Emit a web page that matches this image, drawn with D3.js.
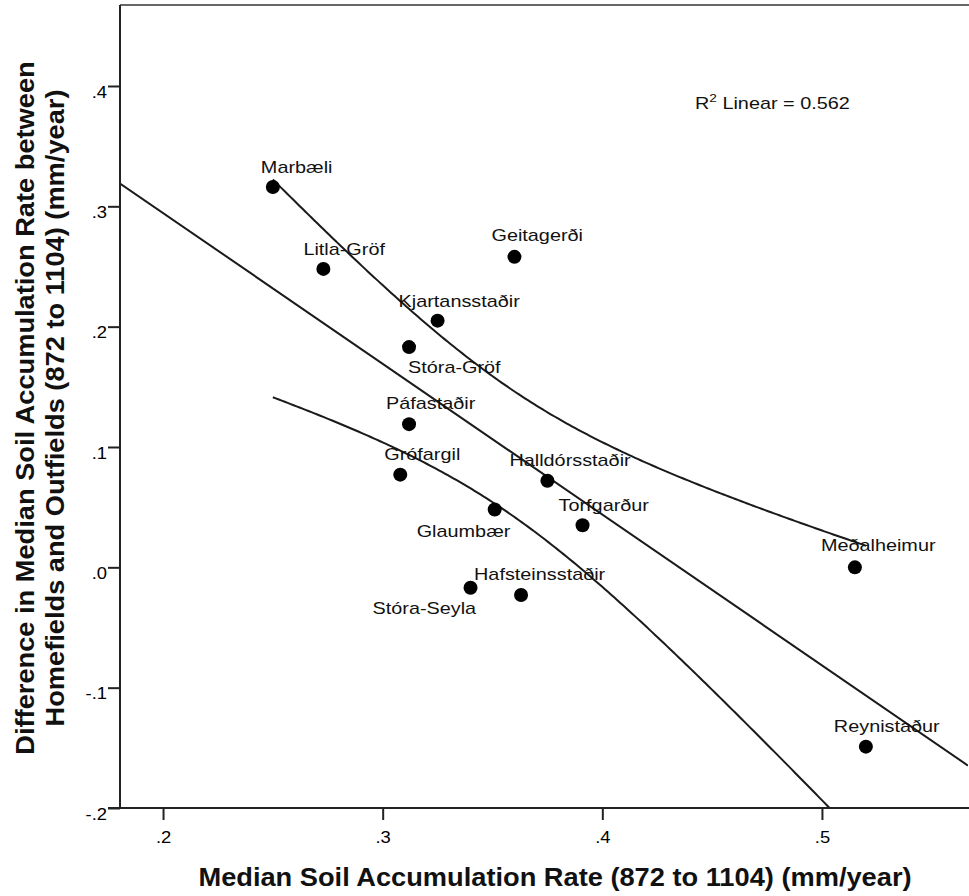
<!DOCTYPE html>
<html lang="en">
<head>
<meta charset="UTF-8">
<title>Soil accumulation scatter</title>
<script src="https://d3js.org/d3.v7.min.js"></script>
<style>
    body { margin: 0; background: #fff; }
    svg text { font-family: Arial, "Liberation Sans", sans-serif; fill: #111; }
</style>
</head>
<body>
<div id="chart"></div>
<script>
    // site names and values
    const sites = ["Marbæli", "Litla-Gröf", "Geitagerði", "Kjartansstaðir", "Stóra-Gröf", "Páfastaðir",
        "Grófargil", "Halldórsstaðir", "Glaumbær", "Torfgarður", "Stóra-Seyla", "Hafsteinsstaðir",
        "Meðalheimur", "Reynistaður"];
    const accumRate = [0.250, 0.273, 0.360, 0.325, 0.312, 0.312, 0.308, 0.375, 0.351, 0.391, 0.340, 0.363, 0.515, 0.520];
    const homeOutDiff = [0.316, 0.248, 0.258, 0.205, 0.183, 0.119, 0.077, 0.072, 0.048, 0.035, -0.017, -0.023, 0.000, -0.149];

    const xTicks = [0.2, 0.3, 0.4, 0.5];
    const yTicks = [-0.2, -0.1, 0.0, 0.1, 0.2, 0.3, 0.4];
    const rSquaredText = "0.562";
    const xTitle = "Median Soil Accumulation Rate (872 to 1104) (mm/year)";
    const yTitleLines = ["Difference in Median Soil Accumulation Rate between",
        "Homefields and Outfields (872 to 1104) (mm/year)"];

    // label placement (px, left edge / baseline relative to the dot)
    const labelShift = [[-12, -14], [-20, -14], [-23, -16], [-39, -14], [-1, 26], [-23, -15], [-16, -15],
        [-38, -15], [-78, 27], [-24, -14], [-98, 26], [-47, -15], [-34, -16], [-32, -15]];

    const W = 969, H = 896;
    const plot = { left: 120, right: 968, top: 5, bottom: 808 };
    const stretch = 1.24;   // the source text is rendered wide

    const x = d3.scaleLinear().domain([0.1804, 0.5665]).range([plot.left, plot.right]);
    const y = d3.scaleLinear().domain([-0.2, 0.4673]).range([plot.bottom, plot.top]);

    const svg = d3.select("#chart").append("svg")
        .attr("width", W)
        .attr("height", H);

    svg.append("defs").append("clipPath").attr("id", "clip")
        .append("rect")
        .attr("x", plot.left).attr("y", plot.top)
        .attr("width", plot.right - plot.left).attr("height", plot.bottom - plot.top);

    // least squares fit + 95% CI of the mean
    const n = accumRate.length;
    const mx = d3.mean(accumRate), my = d3.mean(homeOutDiff);
    let sxx = 0, sxy = 0;
    accumRate.forEach(function (v, i) {
        sxx += (v - mx) * (v - mx);
        sxy += (v - mx) * (homeOutDiff[i] - my);
    });
    const slope = sxy / sxx;
    const intercept = my - slope * mx;
    let sse = 0;
    accumRate.forEach(function (v, i) {
        const r = homeOutDiff[i] - (intercept + slope * v);
        sse += r * r;
    });
    const se = Math.sqrt(sse / (n - 2));
    const tCrit = 2.179; // t(0.975, df = 12)
    const fit = function (v) { return intercept + slope * v; };
    const halfWidth = function (v) { return tCrit * se * Math.sqrt(1 / n + (v - mx) * (v - mx) / sxx); };

    const xMin = d3.min(accumRate), xMax = d3.max(accumRate);
    const bandX = d3.range(0, 201).map(function (i) { return xMin + (xMax - xMin) * i / 200; });

    const lineGen = d3.line().x(function (d) { return x(d[0]); }).y(function (d) { return y(d[1]); });
    const lines = svg.append("g").attr("clip-path", "url(#clip)")
        .attr("fill", "none").attr("stroke", "#1a1a1a").attr("stroke-width", 2);

    lines.append("path").attr("d", lineGen(x.domain().map(function (v) { return [v, fit(v)]; })));
    lines.append("path").attr("d", lineGen(bandX.map(function (v) { return [v, fit(v) + halfWidth(v)]; })));
    lines.append("path").attr("d", lineGen(bandX.map(function (v) { return [v, fit(v) - halfWidth(v)]; })));

    // frame top
    svg.append("line")
        .attr("x1", plot.left).attr("x2", W)
        .attr("y1", plot.top).attr("y2", plot.top)
        .attr("stroke", "#666").attr("stroke-width", 2);

    // SPSS style: ".4", "-.1"
    const fmt = function (v) {
        return (v < 0 ? "-" : "") + Math.abs(v).toFixed(1).replace(/^0/, "");
    };

    const yAxis = svg.append("g")
        .attr("transform", "translate(" + plot.left + ",0)")
        .call(d3.axisLeft(y).tickValues(yTicks).tickFormat(fmt).tickSize(12).tickSizeOuter(0).tickPadding(1));
    yAxis.select(".domain").attr("d", "M0," + plot.top + "V" + plot.bottom);
    yAxis.selectAll("text")
        .attr("dy", "0.7em")
        .attr("x", -13 / 1.15)
        .attr("transform", "scale(1.15,1)")
        .style("font-size", "16px")
        .style("fill", "#000");

    const xAxis = svg.append("g")
        .attr("transform", "translate(0," + plot.bottom + ")")
        .call(d3.axisBottom(x).tickValues(xTicks).tickFormat(fmt).tickSize(12).tickSizeOuter(0).tickPadding(12));
    xAxis.select(".domain").attr("d", "M" + (plot.left - 12) + ",0H" + W);
    xAxis.selectAll("text")
        .attr("transform", "scale(1.15,1)")
        .style("font-size", "16px")
        .style("fill", "#000");

    svg.selectAll(".domain").attr("stroke", "#222").attr("stroke-width", 2);
    svg.selectAll(".tick line").attr("stroke", "#222").attr("stroke-width", 2);

    // points
    svg.append("g").selectAll("circle")
        .data(sites)
        .join("circle")
        .attr("cx", function (d, i) { return x(accumRate[i]); })
        .attr("cy", function (d, i) { return y(homeOutDiff[i]); })
        .attr("r", 7)
        .attr("fill", "#000");

    // point labels
    svg.append("g").selectAll("text")
        .data(sites)
        .join("text")
        .attr("transform", function (d, i) {
            return "translate(" + (x(accumRate[i]) + labelShift[i][0]) + "," + (y(homeOutDiff[i]) + labelShift[i][1]) + ") scale(" + stretch + ",1)";
        })
        .style("font-size", "16px")
        .text(function (d) { return d; });

    // R² note
    const r2 = svg.append("text")
        .attr("transform", "translate(695,109) scale(" + stretch + ",1)")
        .style("font-size", "16px");
    r2.append("tspan").text("R");
    r2.append("tspan").attr("dy", -7).style("font-size", "11px").text("2");
    r2.append("tspan").attr("dy", 7).text(" Linear = " + rSquaredText);

    // axis titles
    svg.append("text")
        .attr("transform", "translate(555,886) scale(1.09,1)")
        .attr("text-anchor", "middle")
        .style("font-size", "25px")
        .style("font-weight", "bold")
        .text(xTitle);

    yTitleLines.forEach(function (t, i) {
        svg.append("text")
            .attr("transform", "translate(" + (34 + i * 29.5) + ",408) rotate(-90) scale(1.09,1)")
            .attr("text-anchor", "middle")
            .style("font-size", "25px")
            .style("font-weight", "bold")
            .text(t);
    });
</script>
</body>
</html>
